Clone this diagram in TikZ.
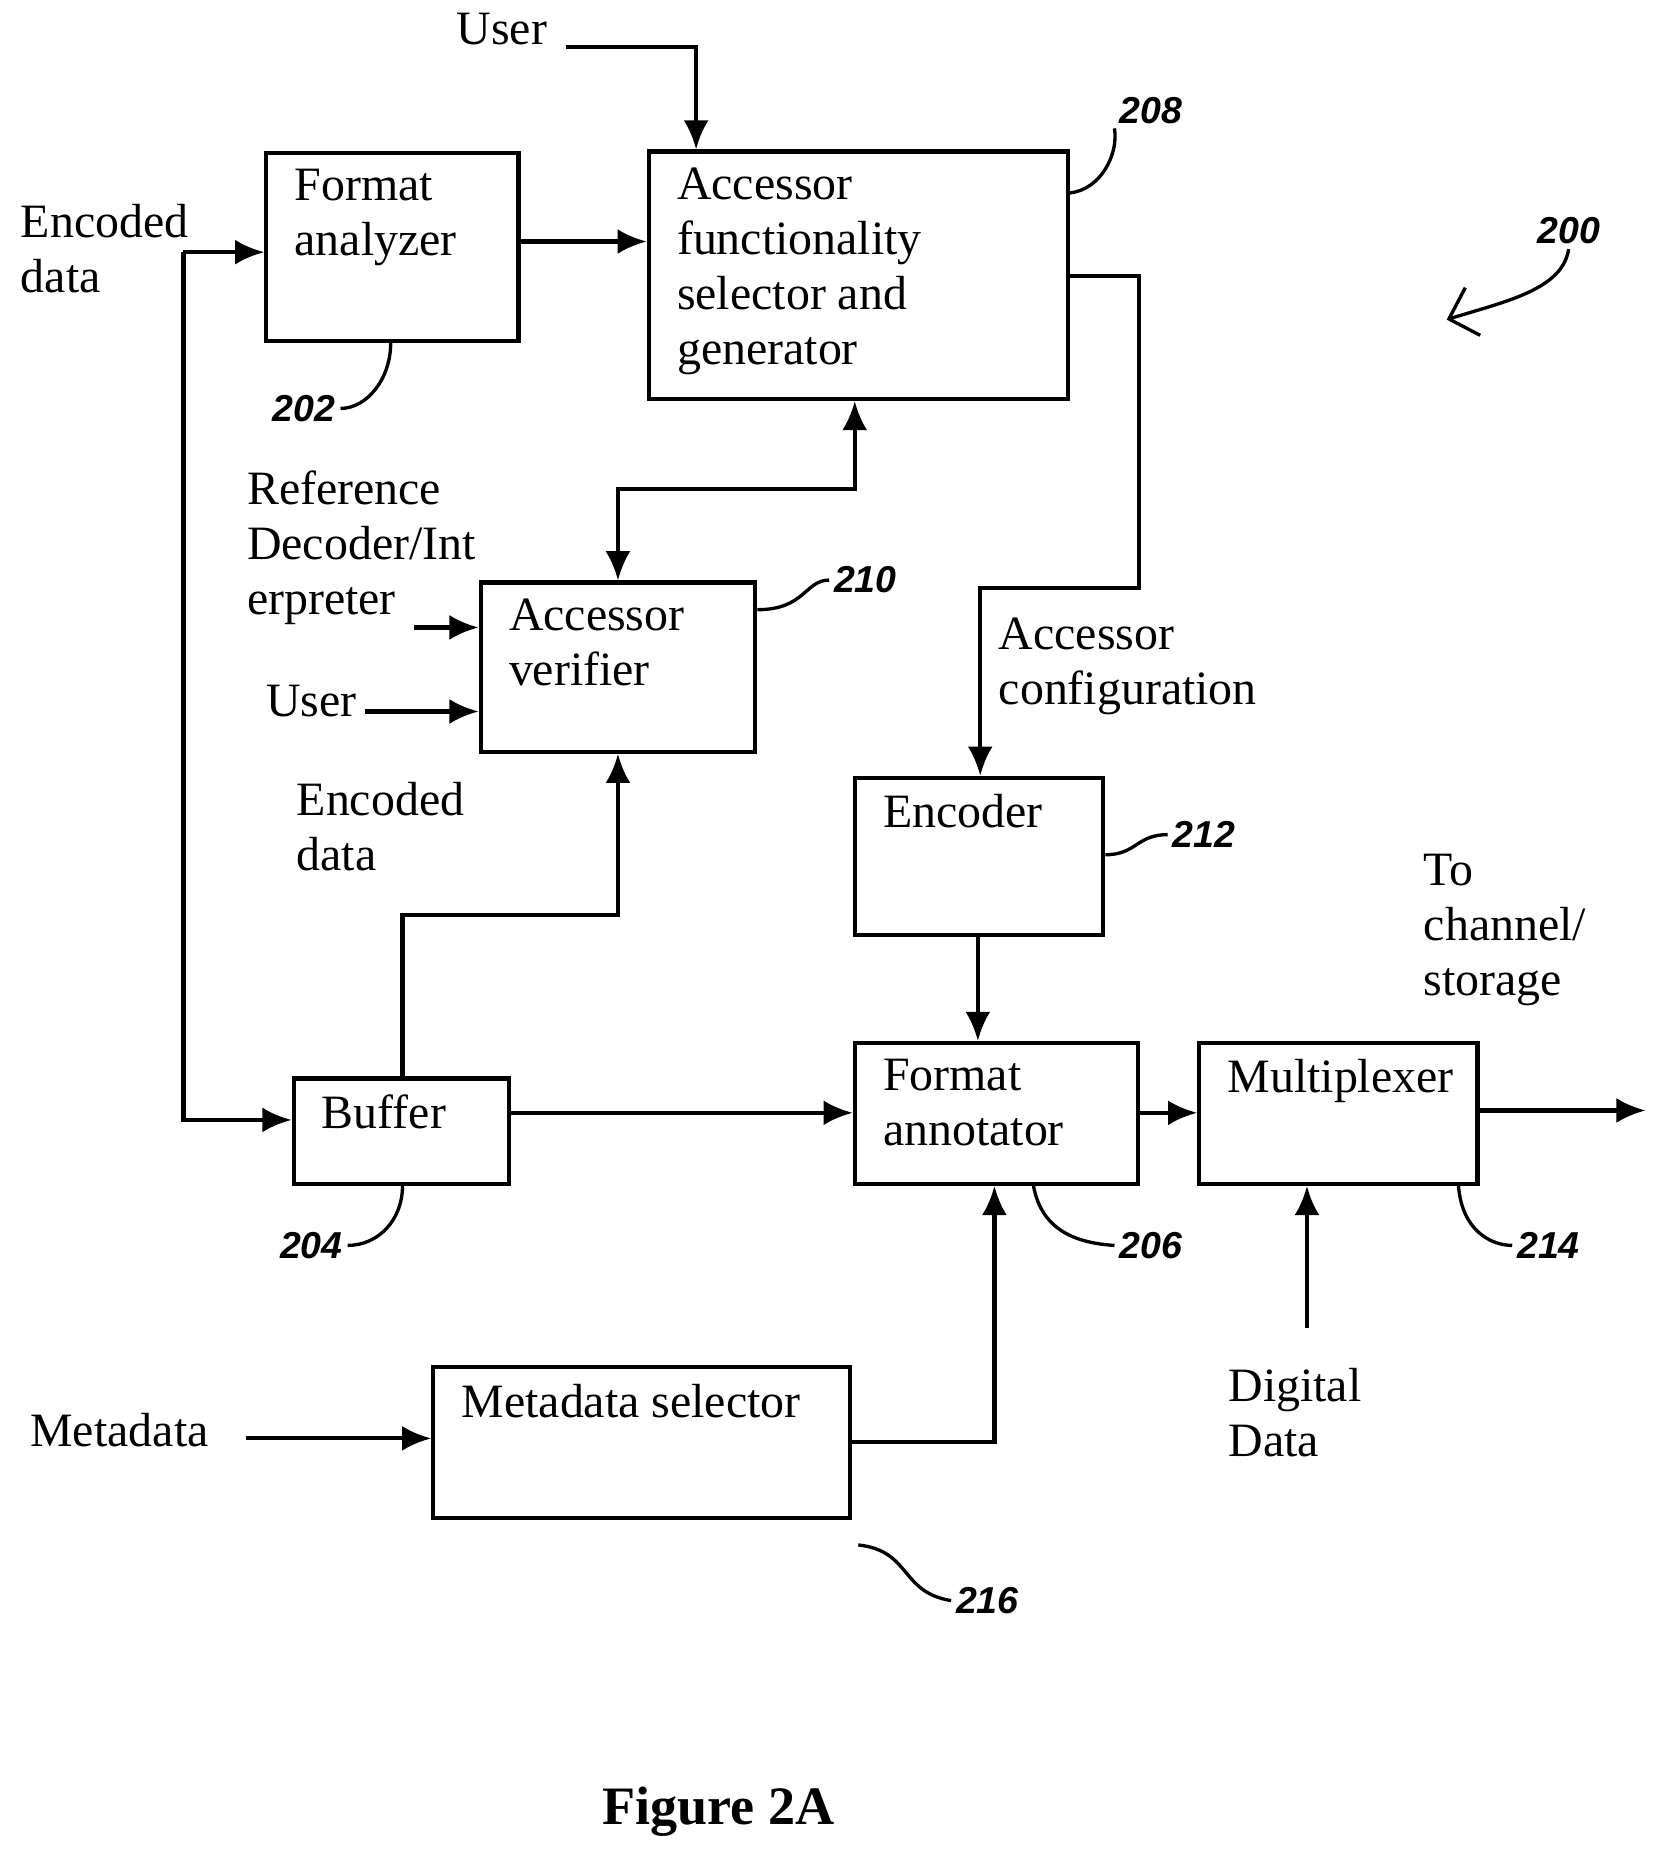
\documentclass[tikz,border=0pt]{standalone}
\usepackage{fontspec}
\setmainfont{Liberation Serif}
\newfontfamily\numfont{Liberation Sans}
\usetikzlibrary{arrows.meta}
\tikzset{
  box/.style={draw, line width=1pt, inner sep=0pt},
  txt/.style={anchor=north west, align=left, inner sep=0pt, font=\fontsize{11.5}{13.2}\selectfont},
  flow/.style={line width=1pt, -{Latex[length=7pt,width=6pt]}},
  ref/.style={font=\numfont\bfseries\itshape\fontsize{9}{10}\selectfont, inner sep=1pt},
  lead/.style={line width=0.8pt}
}
% \boxit{name}{x1}{y1}{x2}{y2}{text}
\newcommand{\boxit}[6]{%
  \node[box, minimum width={(#4-#2)*0.01cm}, minimum height={(#5-#3)*0.01cm}] (#1) at ({(#2+#4)/2},{(#3+#5)/2}) {};
  \node[txt] at ([xshift=0.25cm,yshift=-0.15cm]#1.north west) {#6};}
\begin{document}
\begin{tikzpicture}[x=0.01cm, y=-0.01cm]
\useasboundingbox (0,0) rectangle (1410,1572);
% boxes
\boxit{fa}{225}{129}{438}{288}{Format\\analyzer}
\boxit{afs}{548}{128}{902}{337}{Accessor\\functionality\\selector and\\generator}
\boxit{av}{406}{492}{638}{635}{Accessor\\verifier}
\boxit{enc}{722}{657}{932}{790}{Encoder}
\boxit{buf}{248}{911}{430}{1000}{Buffer}
\boxit{fan}{722}{881}{961}{1000}{Format\\annotator}
\boxit{mux}{1013}{881}{1248}{1000}{Multiplexer}
\boxit{ms}{366}{1155}{718}{1282}{Metadata selector}
% texts
\node[txt] (tenc) at (17,172) {Encoded\\data};
\node[txt] (tuser) at (385,10) {User};
\node[txt] (tref) at (208,397) {Reference\\Decoder/Int\\erpreter};
\node[txt] (tuser2) at (224,578) {User};
\node[txt] (tenc2) at (250,660) {Encoded\\data};
\node[txt] (tconf) at (843,521) {Accessor\\configuration};
\node[txt] (tch) at (1202,721) {To\\channel/\\storage};
\node[txt] (tdig) at (1037,1155) {Digital\\Data};
\node[txt] (tmeta) at (25,1193) {Metadata};
\node[font=\bfseries\fontsize{13}{15}\selectfont] (fig) at (607,1530) {Figure 2A};
% connectors
\coordinate (split) at (155,213);
\draw[flow] (split) -- (split -| fa.west);
\draw[flow] (split) -- (155,946) -- (buf.west |- 0,946);
\draw[flow] (478,40) -- (588,40) -- (588,0 |- afs.north);
\draw[flow] (fa.east |- 0,204) -- (afs.west |- 0,204);
\draw[flow] (afs.east |- 0,233) -- (962,233) -- (962,497) -- (828,497) -- (828,0 |- enc.north);
\draw[flow, {Latex[length=7pt,width=6pt]}-{Latex[length=7pt,width=6pt]}] (av.north -| 522,0) -- (522,413) -- (722,413) -- (722,0 |- afs.south);
\draw[flow] (350,530) -- (av.west |- 0,530);
\draw[flow] (308,601) -- (av.west |- 0,601);
\draw[flow] (buf.north -| 340,0) -- (340,773) -- (522,773) -- (522,0 |- av.south);
\draw[flow] (buf.east |- 0,940) -- (fan.west |- 0,940);
\draw[flow] (enc.south -| 826,0) -- (826,0 |- fan.north);
\draw[flow] (fan.east |- 0,940) -- (mux.west |- 0,940);
\draw[flow] (mux.east |- 0,938) -- (1390,938);
\draw[flow] (1104,1122) -- (1104,0 |- mux.south);
\draw[flow] (208,1215) -- (ms.west |- 0,1215);
\draw[flow] (ms.east |- 0,1218) -- (840,1218) -- (840,0 |- fan.south);
% reference numerals
\node[ref] (n208) at (972,93) {208};
\draw[lead] (afs.east |- 0,163) .. controls (930,160) and (945,130) .. (n208.south west);
\node[ref] (n200) at (1325,195) {200};
\draw[lead, -{Straight Barb[length=6pt]}] (n200.south) .. controls (1320,245) and (1270,255) .. (1222,270);
\node[ref] (n202) at (257,345) {202};
\draw[lead] (330,0 |- fa.south) .. controls (330,320) and (310,345) .. (n202.east);
\node[ref] (n210) at (731,490) {210};
\draw[lead] (av.east |- 0,515) .. controls (680,515) and (680,490) .. (n210.west);
\node[ref] (n212) at (1017,705) {212};
\draw[lead] (enc.east |- 0,722) .. controls (960,722) and (960,705) .. (n212.west);
\node[ref] (n204) at (263,1052) {204};
\draw[lead] (340,0 |- buf.south) .. controls (340,1030) and (320,1052) .. (n204.east);
\node[ref] (n206) at (972,1052) {206};
\draw[lead] (873,0 |- fan.south) .. controls (880,1040) and (910,1050) .. (n206.west);
\node[ref] (n214) at (1308,1052) {214};
\draw[lead] (1232,0 |- mux.south) .. controls (1235,1040) and (1260,1052) .. (n214.west);
\node[ref] (n216) at (834,1352) {216};
\draw[lead] (725,1305) .. controls (770,1310) and (760,1345) .. (n216.west);
\end{tikzpicture}
\end{document}
